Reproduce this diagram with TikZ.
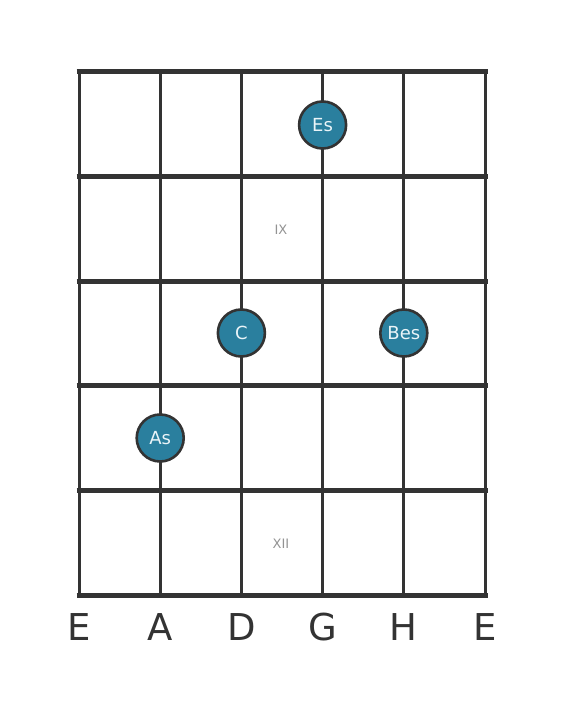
\documentclass[tikz,border=0pt]{standalone}
\usepackage{fontspec}
\setmainfont{DejaVu Sans}
\usepackage{xcolor}
\usepackage{tikz}
\definecolor{gridgray}{HTML}{333333}
\definecolor{noteblue}{HTML}{2A7F9E}
\definecolor{notetext}{HTML}{EAF4F8}
\tikzstyle{note}=[fill=noteblue, draw=gridgray, line width=2.6pt, shape=circle, minimum size=47pt, inner sep=0pt, text=notetext, font=\fontsize{18}{18}\selectfont]
\tikzstyle{string}=[draw=gridgray, line width=3pt]
\tikzstyle{fret}=[draw=gridgray, line width=5pt]
\tikzstyle{fret label}=[text=gray!85, font=\fontsize{13}{13}\selectfont]
\tikzstyle{string label}=[text=gridgray, font=\fontsize{37}{37}\selectfont]
\pgfdeclarelayer{nodelayer}
\pgfdeclarelayer{edgelayer}
\pgfsetlayers{edgelayer,main,nodelayer}
\begin{document}
\begin{tikzpicture}[x=1pt, y=-1pt]
	\useasboundingbox (0, 0) rectangle (566, 711);
	\begin{pgfonlayer}{edgelayer}
		\foreach \x in {79, 160.2, 241.4, 322.6, 403.8, 485}
			\draw [style=string] (\x, 72) -- (\x, 595);
		\foreach \y in {72, 176.6, 281.2, 385.8, 490.4, 595}
			\draw [style=fret] (76.5, \y) -- (487.5, \y);
	\end{pgfonlayer}
	\begin{pgfonlayer}{nodelayer}
		\node [style=note] (0) at (322.6, 125) {Es};
		\node [style=note] (1) at (241.4, 333) {C};
		\node [style=note] (2) at (403.8, 333) {Bes};
		\node [style=note] (3) at (160.2, 438) {As};
		\node [style=fret label] (4) at (281, 230) {IX};
		\node [style=fret label] (5) at (281, 544) {XII};
		\node [style=string label] (6) at (79, 627) {E};
		\node [style=string label] (7) at (160.2, 627) {A};
		\node [style=string label] (8) at (241.4, 627) {D};
		\node [style=string label] (9) at (322.6, 627) {G};
		\node [style=string label] (10) at (403.8, 627) {H};
		\node [style=string label] (11) at (485, 627) {E};
	\end{pgfonlayer}
\end{tikzpicture}
\end{document}
